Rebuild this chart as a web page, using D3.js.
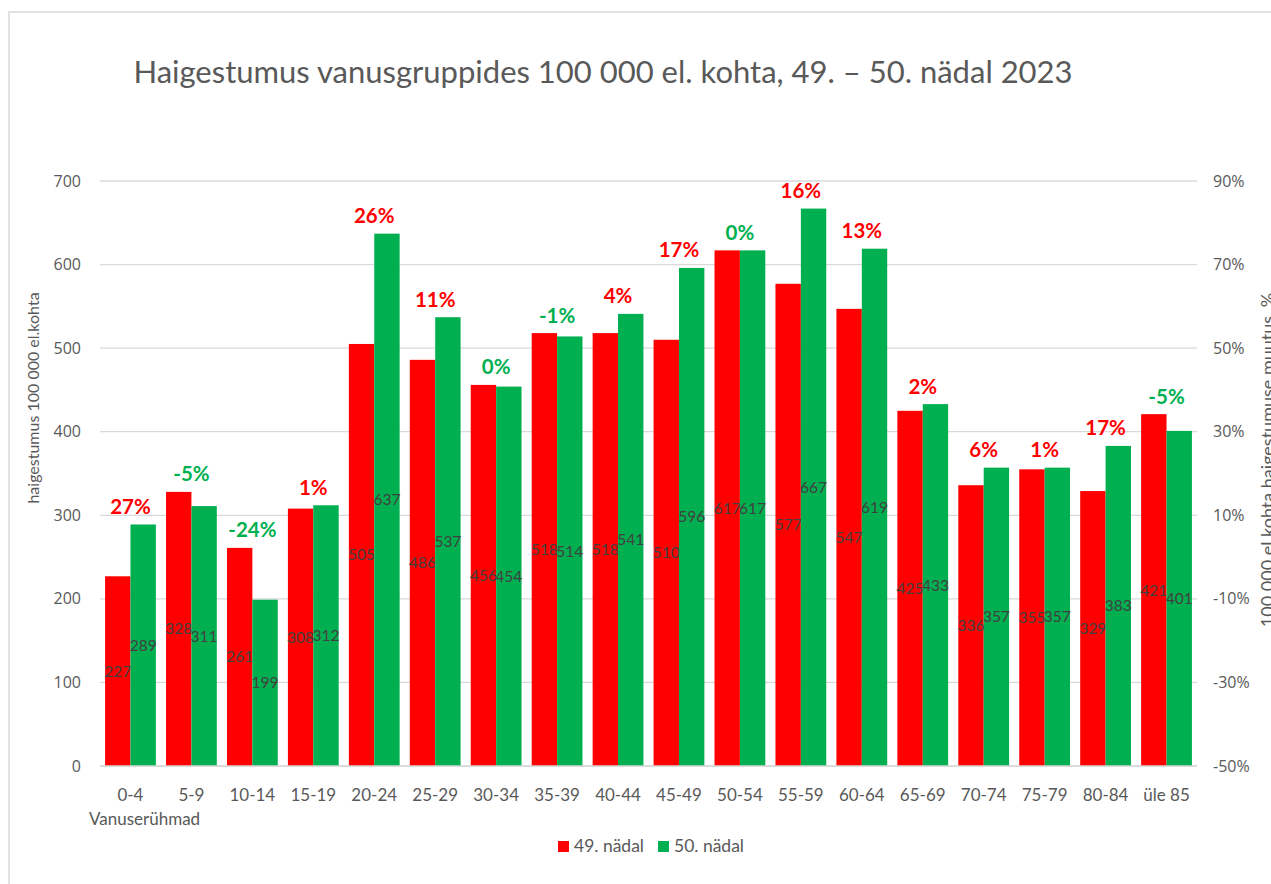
<!DOCTYPE html>
<html>
<head>
<meta charset="utf-8">
<script src="https://cdn.jsdelivr.net/npm/d3@7"></script>
<style>
    html, body { margin: 0; padding: 0; background: #fff; }
    svg { display: block; font-family: Lato, "Open Sans", sans-serif; }
</style>
</head>
<body>
<div id="chart"></div>
<script>
// Haigestumus vanusgruppides, 49. ja 50. nädal 2023
var ageGroups = ['0-4', '5-9', '10-14', '15-19', '20-24', '25-29', '30-34', '35-39', '40-44',
    '45-49', '50-54', '55-59', '60-64', '65-69', '70-74', '75-79', '80-84', 'üle 85'];
var week49 = [227, 328, 261, 308, 505, 486, 456, 518, 518, 510, 617, 577, 547, 425, 336, 355, 329, 421];
var week50 = [289, 311, 199, 312, 637, 537, 454, 514, 541, 596, 617, 667, 619, 433, 357, 357, 383, 401];
// muutus %, label colour: red if it went up, green otherwise
var changePct = [27, -5, -24, 1, 26, 11, 0, -1, 4, 17, 0, 16, 13, 2, 6, 1, 17, -5];
var leftTicks = [0, 100, 200, 300, 400, 500, 600, 700];
var rightTicks = [-0.5, -0.3, -0.1, 0.1, 0.3, 0.5, 0.7, 0.9];
var seriesNames = ['49. nädal', '50. nädal'];

(function () {
    'use strict';

    var W = 1271, H = 884;
    var RED = '#ff0000', GREEN = '#00b050';
    var GREY = '#595959';
    var plot = { left: 100, right: 1197, top: 181, bottom: 766 };

    var svg = d3.select('#chart').append('svg')
        .attr('width', W).attr('height', H)
        .attr('viewBox', [0, 0, W, H]);

    svg.append('rect').attr('width', W).attr('height', H).attr('fill', '#fff');
    // chart frame (runs off the right/bottom of the picture)
    svg.append('rect')
        .attr('x', 9).attr('y', 12).attr('width', W + 20).attr('height', H + 20)
        .attr('fill', 'none').attr('stroke', '#d9d9d9').attr('stroke-width', 1.5);

    svg.append('text')
        .attr('x', 603).attr('y', 83)
        .attr('text-anchor', 'middle')
        .attr('fill', GREY)
        .style('font-size', '31px')
        .text('Haigestumus vanusgruppides 100 000 el. kohta, 49. – 50. nädal 2023');

    var x0 = d3.scaleBand().domain(ageGroups).range([plot.left, plot.right]).padding(0);
    var x1 = d3.scaleBand().domain(seriesNames).range([0, x0.bandwidth()])
        .paddingInner(0).paddingOuter(0.2);
    var y = d3.scaleLinear().domain([0, 700]).range([plot.bottom, plot.top]);
    var yRight = d3.scaleLinear().domain([-0.5, 0.9]).range([plot.bottom, plot.top]);

    // gridlines
    svg.append('g').selectAll('line').data(leftTicks).join('line')
        .attr('x1', plot.left).attr('x2', plot.right)
        .attr('y1', function (d) { return y(d); })
        .attr('y2', function (d) { return y(d); })
        .attr('stroke', '#d9d9d9').attr('stroke-width', 1.3);

    // left axis
    var leftAxis = svg.append('g')
        .attr('transform', 'translate(' + (plot.left - 19) + ',0)')
        .call(d3.axisLeft(y).tickValues(leftTicks).tickSize(0).tickPadding(0));
    leftAxis.select('.domain').remove();
    leftAxis.selectAll('text')
        .attr('fill', GREY)
        .style('font-family', '"Open Sans", sans-serif')
        .style('font-size', '16px');

    // right axis
    var rightAxis = svg.append('g')
        .attr('transform', 'translate(' + (plot.right + 16) + ',0)')
        .call(d3.axisRight(yRight).tickValues(rightTicks).tickSize(0).tickPadding(0)
            .tickFormat(function (d) { return Math.round(d * 100) + '%'; }));
    rightAxis.select('.domain').remove();
    rightAxis.selectAll('text')
        .attr('fill', GREY)
        .style('font-family', '"Open Sans", sans-serif')
        .style('font-size', '16px');

    // bars
    var rows = ageGroups.map(function (g, i) {
        return { group: g, values: [week49[i], week50[i]], pct: changePct[i] };
    });
    var colors = d3.scaleOrdinal().domain(seriesNames).range([RED, GREEN]);

    var groups = svg.append('g').selectAll('g').data(rows).join('g')
        .attr('transform', function (d) { return 'translate(' + x0(d.group) + ',0)'; });

    groups.selectAll('rect')
        .data(function (d) {
            return d.values.map(function (v, j) { return { key: seriesNames[j], value: v }; });
        })
        .join('rect')
        .attr('x', function (d) { return x1(d.key); })
        .attr('width', x1.bandwidth())
        .attr('y', function (d) { return y(d.value); })
        .attr('height', function (d) { return y(0) - y(d.value); })
        .attr('fill', function (d) { return colors(d.key); });

    // value labels in the middle of each bar
    groups.selectAll('text.val')
        .data(function (d) {
            return d.values.map(function (v, j) { return { key: seriesNames[j], value: v }; });
        })
        .join('text')
        .attr('class', 'val')
        .attr('x', function (d) { return x1(d.key) + x1.bandwidth() / 2; })
        .attr('y', function (d) { return (y(d.value) + y(0)) / 2 + 5.5; })
        .attr('text-anchor', 'middle')
        .attr('fill', '#404040')
        .style('font-size', '15.5px')
        .text(function (d) { return d.value; });

    // change % above each pair
    groups.append('text')
        .attr('x', x0.bandwidth() / 2)
        .attr('y', function (d) { return y(d3.max(d.values)) - 18 + 7.5; })
        .attr('text-anchor', 'middle')
        .attr('fill', function (d) { return d.pct > 0 ? RED : GREEN; })
        .style('font-size', '20.5px')
        .style('font-weight', 'bold')
        .text(function (d) { return d.pct + '%'; });

    // baseline
    svg.append('line')
        .attr('x1', plot.left).attr('x2', plot.right)
        .attr('y1', y(0)).attr('y2', y(0))
        .attr('stroke', '#d9d9d9').attr('stroke-width', 1.3);

    // category labels
    svg.append('g').selectAll('text').data(ageGroups).join('text')
        .attr('x', function (d) { return x0(d) + x0.bandwidth() / 2; })
        .attr('y', 801)
        .attr('text-anchor', 'middle')
        .attr('fill', GREY)
        .style('font-size', '17px')
        .text(function (d) { return d; });

    svg.append('text')
        .attr('x', 89).attr('y', 825)
        .attr('fill', GREY)
        .style('font-size', '17px')
        .text('Vanuserühmad');

    // axis titles
    svg.append('text')
        .attr('transform', 'translate(39,398) rotate(-90)')
        .attr('text-anchor', 'middle')
        .attr('fill', GREY)
        .style('font-size', '16px')
        .text('haigestumus 100 000 el.kohta');

    // partly off the right edge, as in the original export
    svg.append('text')
        .attr('transform', 'translate(1274,460) rotate(-90)')
        .attr('text-anchor', 'middle')
        .attr('fill', GREY)
        .style('font-size', '18px')
        .text('100 000 el kohta haigestumuse muutus, %');

    // legend
    var legend = svg.append('g');
    var lx = 0;
    seriesNames.forEach(function (name) {
        var item = legend.append('g').attr('transform', 'translate(' + lx + ',0)');
        item.append('rect')
            .attr('x', 0).attr('y', -5).attr('width', 11).attr('height', 11)
            .attr('fill', colors(name));
        var t = item.append('text')
            .attr('x', 16).attr('y', 6)
            .attr('fill', GREY)
            .style('font-size', '17.5px')
            .text(name);
        lx += 16 + t.node().getComputedTextLength() + 14;
    });
    var legendWidth = lx - 14;
    legend.attr('transform', 'translate(' + (651 - legendWidth / 2) + ',846)');
})();
</script>
</body>
</html>
